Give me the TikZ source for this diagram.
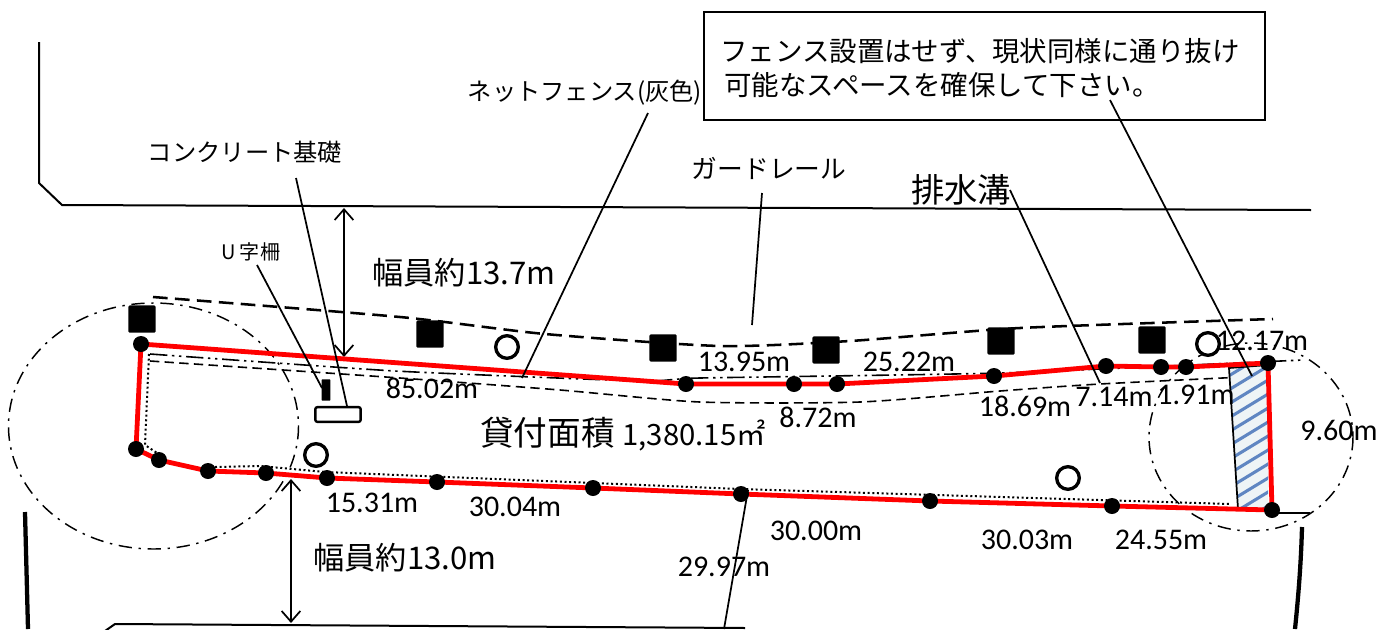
\documentclass[tikz,border=0pt]{standalone}
\usepackage{fontspec}
\setmainfont{Carlito}
\newfontfamily\jpfont{Noto Sans CJK JP}
\usetikzlibrary{arrows.meta,shapes.geometric}
\definecolor{hatchblue}{HTML}{5F86C2}
\definecolor{hatchbg}{HTML}{EEF4F6}
\tikzset{
  road/.style={line width=1.5pt,black},
  thickroad/.style={line width=3.2pt,black},
  leader/.style={line width=1.3pt,black},
  dim/.style={line width=1.3pt,black,{Straight Barb[length=8pt,width=14pt]}-{Straight Barb[length=8pt,width=14pt]}},
  bound/.style={line width=3.6pt,red,line join=round},
  dot/.style={circle,fill=black,inner sep=0pt,minimum size=12pt},
  post/.style={rectangle,rounded corners=1pt,fill=black,inner sep=0pt,minimum size=20.5pt},
  hole/.style={circle,draw=black,line width=2.5pt,fill=white,inner sep=0pt,minimum size=17pt},
  zone/.style={line width=1.1pt,black,dash pattern=on 10pt off 5pt on 1.8pt off 5pt},
  rail/.style={line width=1.9pt,black,dash pattern=on 11pt off 5.5pt},
  fence/.style={line width=1.2pt,black,dash pattern=on 13pt off 3.5pt on 1.8pt off 3.5pt on 1.8pt off 3.5pt},
  ditch/.style={line width=1.2pt,black,dash pattern=on 7pt off 4pt},
  dotline/.style={line width=1.5pt,black,dotted},
  meas/.style={inner sep=0pt,font=\fontsize{22.5}{26}\selectfont},
  jp/.style={inner sep=0pt,font=\jpfont\fontsize{18.2}{21}\selectfont},
  jpbig/.style={inner sep=0pt,font=\jpfont\fontsize{25}{29}\selectfont},
}
\begin{document}
\begin{tikzpicture}[x=0.75pt,y=-0.75pt]
\useasboundingbox (0,0) rectangle (1382,629);
% roads
\draw[road] (39,42) -- (39,183) -- (62,205) -- (1311,210);
\draw[thickroad] (25,512) -- (28,629);
\draw[thickroad] (1302,527) .. controls (1301,565) and (1298,600) .. (1295,629);
\draw[road] (105,631) -- (115,624) -- (745,628);
% zones
\draw[zone] (153.5,426) ellipse [x radius=145,y radius=123];
\draw[zone] (1251,437) ellipse [x radius=102,y radius=94];
% lines
\draw[rail] plot[smooth,tension=0.4] coordinates {(153,297) (400,317) (545,334) (720,346) (850,341) (1020,328) (1273,319)};
\draw[fence] plot[smooth,tension=0.3] coordinates {(150,354) (395,371) (640,381) (700,378) (1000,373) (1303,360)};
\draw[ditch] plot[smooth,tension=0.4] coordinates {(150,361) (400,378) (560,390) (700,402) (860,402) (1000,391) (1100,384) (1265,376)};
\draw[dotline] (149,354) -- (145,445) -- (160,455);
\draw[dotline] (215,467) -- (260,466) -- (325,472) -- (740,489) -- (1230,504);
% hatched
\coordinate (h1) at (1229,368); \coordinate (h2) at (1238,509); \coordinate (h3) at (1268,511); \coordinate (h4) at (1268,365);
\begin{scope}
\clip (h1) -- (h2) -- (h3) -- (h4) -- cycle;
\fill[hatchbg] (1220,360) rectangle (1275,515);
\foreach \k in {0,...,15}{
  \draw[hatchblue,line width=2.3pt] (1222,{380+\k*14}) -- (1278,{346+\k*14});
}
\end{scope}
\draw[line width=1.3pt] (h4) -- (h1) -- (h2);
% dim lines
\coordinate (a1) at (344,208); \coordinate (a2) at (344,357);
\coordinate (b1) at (291,479); \coordinate (b2) at (291,623);
\draw[dim] (a1) -- (a2);
\draw[dim] (b1) -- (b2);
% posts
\node[post] (p1) at (142,319) {};
\node[post] (p2) at (430,334) {};
\node[post] (p3) at (663,348) {};
\node[post] (p4) at (826,350) {};
\node[post] (p5) at (1001,341) {};
\node[post] (p6) at (1152,340) {};
% holes
\node[hole] (c1) at (507,347) {};
\node[hole] (c2) at (316,455) {};
\node[hole] (c3) at (1068,478) {};
\node[hole] (c4) at (1208,344) {};
% small objects
\node[rectangle,fill=black,rounded corners=.5pt,inner sep=0pt,minimum width=6.5pt,minimum height=16pt] (ufence) at (326,390) {};
\node[rectangle,draw=black,line width=1.8pt,fill=white,rounded corners=1.5pt,inner sep=0pt,minimum width=34pt,minimum height=11pt] (base) at (338,414.5) {};
% boundary
\coordinate (d1) at (141,344);
\coordinate (d2) at (136,449);
\coordinate (d3) at (159,460);
\coordinate (d4) at (208,471);
\coordinate (d5) at (266,473);
\coordinate (d6) at (327,478);
\coordinate (d7) at (437,482);
\coordinate (d8) at (593,488);
\coordinate (d9) at (741,494);
\coordinate (d10) at (930,501);
\coordinate (d11) at (1112,506);
\coordinate (d12) at (1272,510);
\coordinate (d13) at (1268,363);
\coordinate (d14) at (1186,367);
\coordinate (d15) at (1161,367);
\coordinate (d16) at (1106,366);
\coordinate (d17) at (994,376);
\coordinate (d18) at (837,384);
\coordinate (d19) at (794,384);
\coordinate (d20) at (686,384);
\draw[bound] (d1) -- (d2) -- (d3) -- (d4) -- (d5) -- (d6) -- (d7) -- (d8) -- (d9) -- (d10) -- (d11) -- (d12) -- (d13) -- (d14) -- (d15) -- (d16) -- (d17) -- (d18) -- (d19) -- (d20) -- cycle;
\foreach \i in {1,...,20}{ \node[dot] (n\i) at (d\i) {}; }
\coordinate (e1) at (1310,513);
\draw[leader] (1272,513) -- (e1);
% callout box
\node[draw=black,line width=1.3pt,fill=white,minimum width=420.75pt,minimum height=81pt,inner sep=0pt] (box) at (984.5,66) {};
\node[anchor=west,inner sep=0pt,font=\jpfont\fontsize{20.6}{25.5}\selectfont,align=left] (boxtext) at (720,68) {フェンス設置はせず、現状同様に通り抜け\\ \hspace*{3pt}可能なスペースを確保して下さい。};
% labels
\node[jp] (lconc) at (245,152) {コンクリート基礎};
\node[inner sep=0pt,font=\jpfont\fontsize{15}{18}\selectfont] (lu) at (251,252) {U\hspace{3pt}字\hspace{1pt}柵};
\node[jp] (lnet) at (585,93) {ネットフェンス(灰色)};
\node[jp,font=\jpfont\fontsize{19.3}{22}\selectfont] (lguard) at (769,168) {ガードレール};
\node[jpbig] (ldrain) at (961,190) {排水溝};
\node[jpbig,font=\jpfont\fontsize{23.4}{27}\selectfont] (lw1) at (464,273) {幅員約13.7m};
\node[jpbig,font=\jpfont\fontsize{23.4}{27}\selectfont] (lw2) at (405,558) {幅員約13.0m};
\node[inner sep=0pt,font=\jpfont\fontsize{25.2}{29}\selectfont] (larea) at (623,434) {貸付面積 {\fontsize{22}{26}\selectfont 1,380.15㎡}};
\node[meas] (m1) at (432,388) {85.02m};
\node[meas] (m2) at (744,362) {13.95m};
\node[meas] (m3) at (909,362) {25.22m};
\node[meas] (m4) at (818,417) {8.72m};
\node[meas] (m5) at (1025,406) {18.69m};
\node[meas] (m6) at (1114,397) {7.14m};
\node[meas] (m7) at (1196,395) {1.91m};
\node[meas] (m8) at (1262,341) {12.17m};
\node[meas] (m9) at (1339,430) {9.60m};
\node[meas] (m10) at (372,503) {15.31m};
\node[meas] (m11) at (515,507) {30.04m};
\node[meas] (m12) at (816,531) {30.00m};
\node[meas] (m13) at (724,567) {29.97m};
\node[meas] (m14) at (1027,540) {30.03m};
\node[meas] (m15) at (1161,540) {24.55m};
% leaders
\coordinate (t1) at (296,178);
\coordinate (t2) at (347,406);
\coordinate (t3) at (257,265);
\coordinate (t4) at (322,388);
\coordinate (t5) at (648,113);
\coordinate (t6) at (522,378);
\coordinate (t7) at (762,193);
\coordinate (t8) at (752,325);
\coordinate (t9) at (1010,190);
\coordinate (t11) at (1100,383);
\coordinate (t13) at (1110,100);
\coordinate (t14) at (1252,376);
\coordinate (t15) at (748,490);
\coordinate (t16) at (724,629);
\draw[leader] (t1) -- (t2);
\draw[leader] (t3) -- (t4);
\draw[leader] (t5) -- (t6);
\draw[leader] (t7) -- (t8);
\draw[leader] (t9) -- (t11);
\draw[leader] (t13) -- (t14);
\draw[leader] (t15) -- (t16);
\end{tikzpicture}
\end{document}
